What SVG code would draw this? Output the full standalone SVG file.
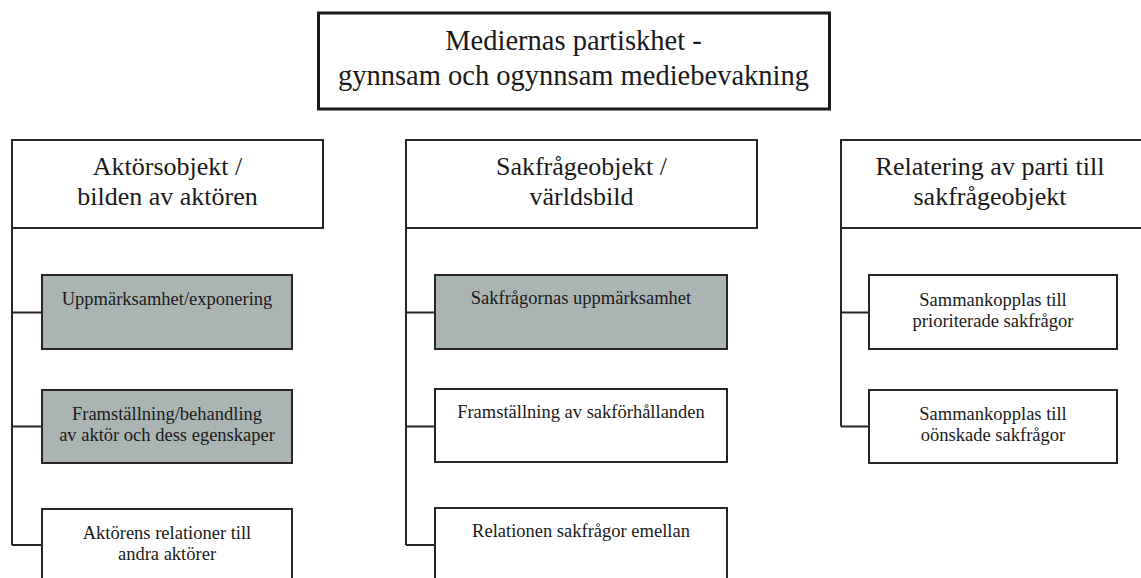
<svg xmlns="http://www.w3.org/2000/svg" width="1141" height="578" viewBox="0 0 1141 578">
<style>
text{font-family:"Liberation Serif","Times New Roman",serif;fill:#1a1a1a;text-anchor:middle}
.title{font-size:28.5px}
.head{font-size:26px}
.item{font-size:18.5px}
.box{fill:#fff;stroke:#262626;stroke-width:2}
.hl{fill:#aab4b2;stroke:#262626;stroke-width:2}
.conn{fill:none;stroke:#262626;stroke-width:2}
</style>
<rect width="1141" height="578" fill="#fff"/>
<g id="title">
<rect x="318.5" y="13" width="511" height="96" fill="#fff" stroke="#1a1a1a" stroke-width="3"/>
<text class="title" x="573.5" y="50">Mediernas partiskhet -</text>
<text class="title" x="573.5" y="85">gynnsam och ogynnsam mediebevakning</text>
</g>
<g id="connectors">
<path class="conn" d="M12,228 V545 M12,312.5 H42 M12,426.5 H42 M12,545 H42"/>
<path class="conn" d="M406,228 V545 M406,312.5 H435 M406,426.5 H435 M406,545 H435"/>
<path class="conn" d="M841,228 V426.5 M841,312.5 H869 M841,426.5 H869"/>
</g>
<g id="head-aktor">
<rect class="box" x="12" y="140" width="311" height="88"/>
<text class="head" x="167.5" y="175">Aktörsobjekt /</text>
<text class="head" x="167.5" y="205">bilden av aktören</text>
</g>
<g id="head-sakfraga">
<rect class="box" x="406" y="140" width="351" height="88"/>
<text class="head" x="581.5" y="175">Sakfrågeobjekt /</text>
<text class="head" x="581.5" y="205">världsbild</text>
</g>
<g id="head-relatering">
<rect class="box" x="841" y="140" width="312" height="88"/>
<text class="head" x="990" y="175">Relatering av parti till</text>
<text class="head" x="990" y="205">sakfrågeobjekt</text>
</g>
<g id="a1">
<rect class="hl" x="42" y="275" width="250" height="74"/>
<text class="item" x="167" y="305">Uppmärksamhet/exponering</text>
</g>
<g id="a2">
<rect class="hl" x="42" y="390" width="250" height="73"/>
<text class="item" x="167" y="420">Framställning/behandling</text>
<text class="item" x="167" y="441">av aktör och dess egenskaper</text>
</g>
<g id="a3">
<rect class="box" x="42" y="509" width="250" height="80"/>
<text class="item" x="167" y="539">Aktörens relationer till</text>
<text class="item" x="167" y="560">andra aktörer</text>
</g>
<g id="s1">
<rect class="hl" x="435" y="275" width="292" height="74"/>
<text class="item" x="581" y="304">Sakfrågornas uppmärksamhet</text>
</g>
<g id="s2">
<rect class="box" x="435" y="389" width="292" height="73"/>
<text class="item" x="581" y="418">Framställning av sakförhållanden</text>
</g>
<g id="s3">
<rect class="box" x="435" y="508" width="292" height="80"/>
<text class="item" x="581" y="537">Relationen sakfrågor emellan</text>
</g>
<g id="r1">
<rect class="box" x="869" y="275" width="248" height="74"/>
<text class="item" x="993" y="306">Sammankopplas till</text>
<text class="item" x="993" y="327">prioriterade sakfrågor</text>
</g>
<g id="r2">
<rect class="box" x="869" y="390" width="248" height="73"/>
<text class="item" x="993" y="420">Sammankopplas till</text>
<text class="item" x="993" y="441">oönskade sakfrågor</text>
</g>
</svg>
